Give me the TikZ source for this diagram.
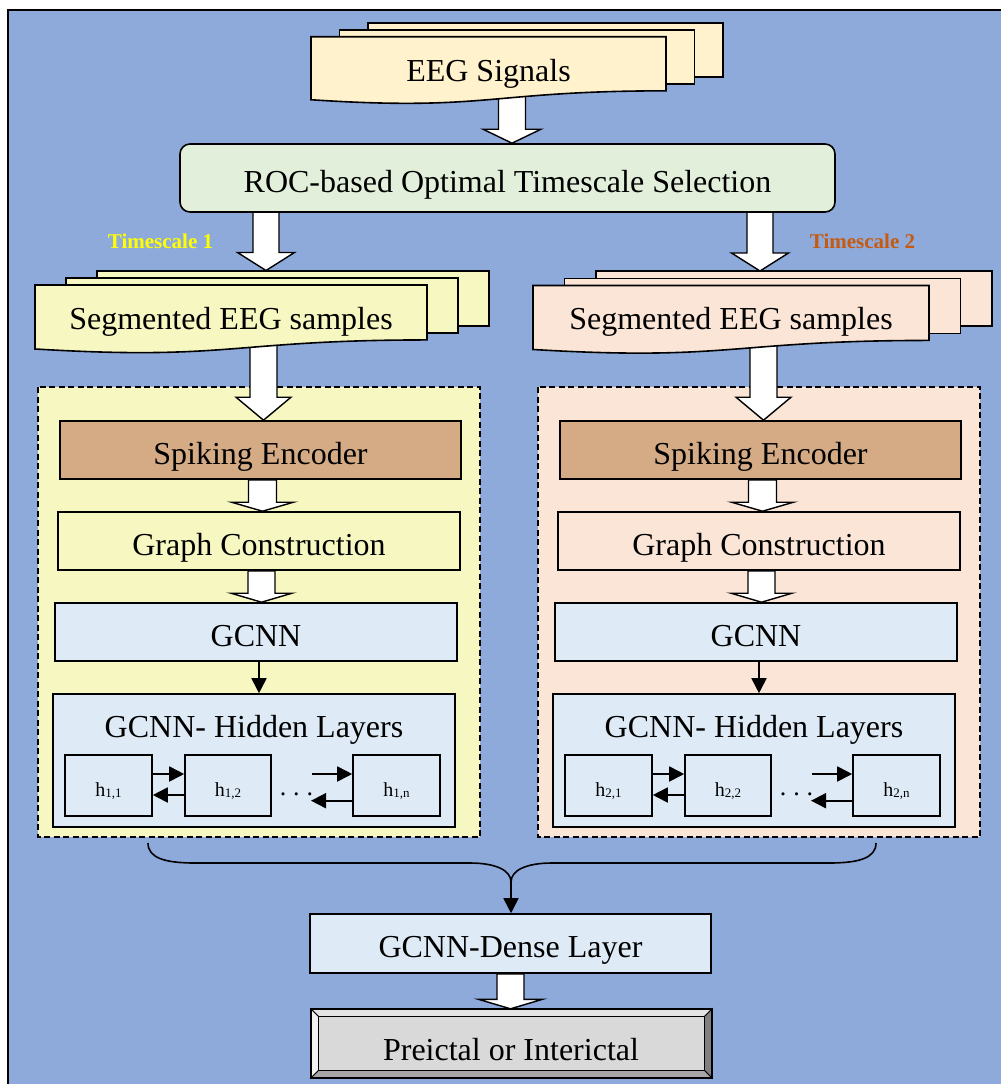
\documentclass[tikz,border=0pt]{standalone}
\usepackage{fontspec}
\setmainfont{Liberation Serif}
\usetikzlibrary{arrows.meta,calc}

\pgfdeclarelayer{back}
\pgfdeclarelayer{arrows}
\pgfsetlayers{back,arrows,main}

\definecolor{canvasblue}{HTML}{8EAADB}
\definecolor{cream}{HTML}{FFF2CC}
\definecolor{rocgreen}{HTML}{E2EFDA}
\definecolor{paleyellow}{HTML}{F7F7C1}
\definecolor{peach}{HTML}{FBE5D6}
\definecolor{encbrown}{HTML}{D5AB85}
\definecolor{paleblue}{HTML}{DEEBF7}
\definecolor{tsorange}{HTML}{C55A11}
\definecolor{tsyellow}{HTML}{FFFF00}
\definecolor{bevtop}{HTML}{E4E4E4}
\definecolor{bevleft}{HTML}{F2F2F2}
\definecolor{bevright}{HTML}{808080}
\definecolor{bevbot}{HTML}{A6A6A6}
\definecolor{bevface}{HTML}{D9D9D9}

\tikzset{
  bigtext/.style={font=\fontsize{32}{38}\selectfont},
  stagebox/.style={draw=black, line width=1.6pt, inner sep=0pt, bigtext,
    text height=28.8pt, text depth=0pt},
  hbox/.style={draw=black, line width=1.6pt, inner sep=0pt, fill=paleblue,
    minimum width=87, minimum height=61, font=\fontsize{20}{24}\selectfont,
    text height=21pt, text depth=0pt},
  fatarrow/.style={draw=black, fill=white, line width=1.4pt, line join=miter},
  conn/.style={line width=1.8pt, -{Triangle[length=15pt,width=15pt]}},
  docpage/.style={draw=black, line width=1.6pt},
  groupframe/.style={draw=black, dash pattern=on 6pt off 3.5pt, line width=1.6pt},
  tslabel/.style={font=\bfseries\fontsize{21}{24}\selectfont, anchor=base},
  bevel/.style={draw=black, line width=1pt},
}

% hollow block arrow pointing down: from, to, shaft half width, head half width, head length
\newcommand\fatarrow[5]{%
  \draw[fatarrow] let \p1=(#1), \p2=(#2) in
    (\x1-#3pt,\y1) -- (\x1-#3pt,\y2+#5pt) -- (\x1-#4pt,\y2+#5pt) -- (\x1,\y2)
    -- (\x1+#4pt,\y2+#5pt) -- (\x1+#3pt,\y2+#5pt) -- (\x1+#3pt,\y1) -- cycle;}

% stack of three pages, the front one with a wavy lower edge
% x, top, width, dx, dy, fill, front height, back page height
\newcommand\docstack[8]{%
  \filldraw[docpage, fill=#6] ({#1+2*#4},{#2-2*#5}) rectangle ++(#3,#8);
  \filldraw[docpage, fill=#6] ({#1+#4},{#2-#5}) rectangle ++(#3,#8);
  \filldraw[docpage, fill=#6] (#1,#2) -- ++(#3,0) -- ++(0,{0.802*#7})
    .. controls ({#1+0.5*#3},{#2+0.802*#7}) and ({#1+0.5*#3},{#2+1.107*#7}) ..
    ({#1},{#2+0.934*#7}) -- cycle;}

\newcommand\hsub[1]{h\raisebox{-1.5pt}{\fontsize{13}{13}\selectfont #1}}

\begin{document}
\begin{tikzpicture}[x=1pt, y=-1pt]
\useasboundingbox (0,0) rectangle (1001,1084);

\begin{pgfonlayer}{back}
  \fill[white] (0,0) rectangle (1001,1084);
  \draw[line width=2.5pt, fill=canvasblue] (8,10) rectangle (1004,1087);
  \draw[groupframe, fill=paleyellow] (38,387) rectangle (480,837);
  \draw[groupframe, fill=peach] (538,387) rectangle (980,837);
\end{pgfonlayer}

% input signals
\docstack{311}{36.7}{355}{28.5}{6.8}{cream}{67.5}{54}
\node[bigtext, anchor=base] (eeg) at (488.5,81) {EEG Signals};
\coordinate (eegb) at (512,95);

% timescale selection
\node[stagebox, rounded corners=10pt, fill=rocgreen, minimum width=655,
  minimum height=68] (roc) at (507.5,178) {ROC-based Optimal Timescale Selection};
\begin{pgfonlayer}{arrows}
  \fatarrow{eegb}{roc.north}{13.5}{29}{14}
\end{pgfonlayer}

\node[tslabel, text=tsyellow] (ts1) at (160.5,248) {Timescale 1};
\node[tslabel, text=tsorange] (ts2) at (862.5,248) {Timescale 2};

% segmented samples for both timescales
\docstack{35}{285}{392}{31}{7}{paleyellow}{68.5}{55}
\node[bigtext, anchor=base] (seg1) at (231,329) {Segmented EEG samples};
\docstack{533}{285.5}{396}{31.5}{7.2}{peach}{68.5}{55}
\node[bigtext, anchor=base] (seg2) at (731,329.5) {Segmented EEG samples};

\coordinate (rocL) at (266,205);
\coordinate (seg1t) at (266,270.5);
\coordinate (rocR) at (760,205);
\coordinate (seg2t) at (760,271);
\begin{pgfonlayer}{arrows}
  \fatarrow{rocL}{seg1t}{13}{28.5}{18}
  \fatarrow{rocR}{seg2t}{13}{28.5}{18}
\end{pgfonlayer}

% one processing branch per timescale
\foreach \k/\ox/\gfill in {1/0/paleyellow, 2/500/peach} {
  \coordinate (segb\k) at (263.5+\ox,340);
  \node[stagebox, fill=encbrown, minimum width=401, minimum height=58]
    (enc\k) at (260.5+\ox,450) {Spiking Encoder};
  \node[stagebox, fill=\gfill, minimum width=402, minimum height=58]
    (graph\k) at (259+\ox,541) {Graph Construction};
  \node[stagebox, fill=paleblue, minimum width=402, minimum height=58]
    (gcnn\k) at (256+\ox,632) {GCNN};
  \node[stagebox, fill=paleblue, minimum width=402, minimum height=133]
    (hid\k) at (254+\ox,760.5) {};
  \node[bigtext, anchor=base] (hidt\k) at (254+\ox,737) {GCNN- Hidden Layers};

  \node[hbox] (ha\k) at (108.5+\ox,785.5) {\hsub{\k,1}};
  \node[hbox, minimum width=86] (hb\k) at (228+\ox,785.5) {\hsub{\k,2}};
  \node[hbox] (hn\k) at (396.5+\ox,785.5) {\hsub{\k,n}};
  \node[font=\fontsize{26}{28}\selectfont, anchor=base] (dots\k) at (296.5+\ox,795.5)
    {.\hspace{7pt}.\hspace{7pt}.};

  \draw[conn] ([yshift=11.5pt]ha\k.east) -- ([yshift=11.5pt]hb\k.west);
  \draw[conn] ([yshift=-9.5pt]hb\k.west) -- ([yshift=-9.5pt]ha\k.east);
  \coordinate (dl\k) at (311.7+\ox,774);
  \coordinate (dr\k) at (311+\ox,800.7);
  \draw[conn] (dl\k) -- ([yshift=11.5pt]hn\k.west);
  \draw[conn] ([yshift=-15.2pt]hn\k.west) -- (dr\k);

  \draw[conn] ([xshift=3pt]gcnn\k.south) -- ([xshift=3pt]gcnn\k.south |- hid\k.north);

  \begin{pgfonlayer}{arrows}
    \fatarrow{segb\k}{enc\k.north}{13.5}{27.5}{23}
    \fatarrow{[xshift=2pt]enc\k.south}{graph\k.north}{14}{31}{9}
    \fatarrow{[xshift=2.5pt]graph\k.south}{gcnn\k.north}{13.5}{30.5}{9}
  \end{pgfonlayer}
}

% merging brace and dense layer
\node[stagebox, fill=paleblue, minimum width=401, minimum height=59]
  (dense) at (510.5,943.5) {GCNN-Dense Layer};
\coordinate (brL) at (148,843);
\coordinate (brR) at (876,843);
\coordinate (brT) at (511,882);
\draw[line width=1.6pt] (brL) .. controls (148,858) and (165,863) .. (195,863)
  -- (470,863) .. controls (495,863) and (511,870) .. (brT);
\draw[line width=1.6pt] (brR) .. controls (876,858) and (859,863) .. (829,863)
  -- (552,863) .. controls (527,863) and (511,870) .. (brT);
\draw[conn] (brT) -- (brT |- dense.north);

% bevelled output box
\node[inner sep=0pt, minimum width=401, minimum height=69] (out) at (511.5,1043.5) {};
\coordinate (iNW) at ($(out.north west)+(8,8)$);
\coordinate (iNE) at ($(out.north east)+(-8,8)$);
\coordinate (iSW) at ($(out.south west)+(8,-8)$);
\coordinate (iSE) at ($(out.south east)+(-8,-8)$);
\filldraw[bevel, fill=bevtop] (out.north west) -- (out.north east) -- (iNE) -- (iNW) -- cycle;
\filldraw[bevel, fill=bevleft] (out.north west) -- (iNW) -- (iSW) -- (out.south west) -- cycle;
\filldraw[bevel, fill=bevright] (out.north east) -- (out.south east) -- (iSE) -- (iNE) -- cycle;
\filldraw[bevel, fill=bevbot] (out.south west) -- (iSW) -- (iSE) -- (out.south east) -- cycle;
\filldraw[bevel, fill=bevface] (iNW) rectangle (iSE);
\draw[line width=1.8pt] (out.north west) rectangle (out.south east);
\begin{scope}
  \clip (iNW) rectangle (703,1060.5);
  \node[bigtext, anchor=base] (outtxt) at (511,1060) {Preictal or Interictal};
\end{scope}
\begin{pgfonlayer}{arrows}
  \fatarrow{dense.south}{out.north}{13.5}{32}{9.5}
\end{pgfonlayer}

\end{tikzpicture}
\end{document}
